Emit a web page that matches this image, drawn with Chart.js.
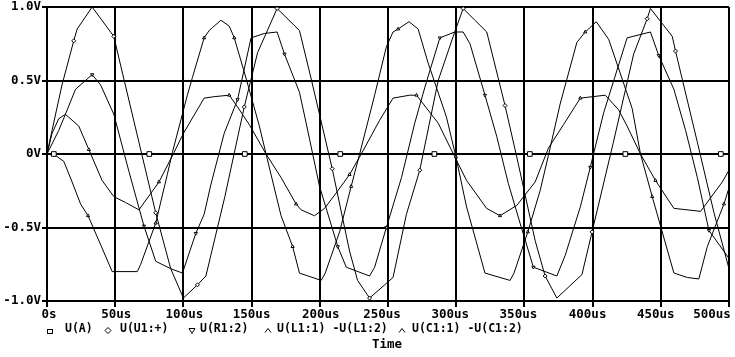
<!DOCTYPE html>
<html><head><meta charset="utf-8">
<script src="https://cdn.jsdelivr.net/npm/chart.js@4"></script>
<style>html,body{margin:0;padding:0;background:#fff}canvas{display:block}</style>
</head><body>
<canvas id="c" width="735" height="357"></canvas>
<script>
// ---- data (time in us, voltage in V) ----
const xTickValues = [0,50,100,150,200,250,300,350,400,450,500];
const xTickLabels = ['0s','50us','100us','150us','200us','250us','300us','350us','400us','450us','500us'];
const yTickValues = [1,0.5,0,-0.5,-1];
const yTickLabels = ['1.0V','0.5V','0V','-0.5V','-1.0V'];
const seriesNames = ['U(A)','U(U1:+)','U(R1:2)','U(L1:1) -U(L1:2)','U(C1:1) -U(C1:2)'];
const axisTitle = 'Time';

const uA_t = [0,5,75,145,215,284,354,424,494,500];
const uA_v = [0,0,0,0,0,0,0,0,0,0];

const u1_t = [0,3.7,11,19.6,22.1,33.1,49,51.5,67.4,79.7,90.7,100,110.3,116.5,130.4,144.6,154.4,165.4,168.7,185.1,193.7,209.1,221.8,227.7,236.5,253.7,263.5,273.3,286.8,297.8,305.1,313.7,322.4,335.8,344.4,357.9,365.2,373.8,392.2,399.6,415,430.1,440,442.4,458.4,460.8,476.8,489,500];
const u1_v = [0,0.16,0.47,0.77,0.85,1.00,0.80,0.70,0.08,-0.40,-0.78,-0.98,-0.89,-0.83,-0.29,0.32,0.69,0.92,0.99,0.84,0.51,-0.10,-0.66,-0.86,-0.98,-0.84,-0.41,-0.11,0.50,0.80,0.99,0.91,0.83,0.33,-0.02,-0.59,-0.83,-0.98,-0.82,-0.53,0.07,0.68,0.92,0.99,0.80,0.70,0.08,-0.40,-0.78];

const r1_t = [0,8.6,13.5,20.9,33.1,39.3,49,60.1,71.1,79.7,90.7,99.3,109.1,115.2,120.1,129.9,139.7,149.6,159.3,168.7,174.1,185.1,190,199.8,213.2,219.4,236.5,240.2,248.8,259.9,269.6,276.9,288,299,305.1,310.1,321.1,329.7,338.2,346.8,356.6,373.8,379.9,391,398.3,408.1,425.3,442.4,448.5,459.6,468.2,476.8,485.3,500];
const r1_v = [0,0.16,0.27,0.44,0.54,0.47,0.27,-0.12,-0.49,-0.73,-0.78,-0.81,-0.54,-0.41,-0.21,0.14,0.37,0.79,0.82,0.83,0.68,0.42,0.21,-0.22,-0.63,-0.77,-0.83,-0.77,-0.50,-0.16,0.21,0.45,0.79,0.83,0.83,0.75,0.40,0.12,-0.20,-0.47,-0.77,-0.83,-0.69,-0.36,-0.09,0.28,0.79,0.83,0.67,0.44,0.16,-0.16,-0.52,-0.71];

const l1_t = [0,6.2,12.3,18.4,24.6,30.1,40.4,47.8,66.2,68.7,79.7,88.2,91.9,102.9,106.6,115.2,118.9,121.3,127.5,133.6,137.3,146.1,155.7,160.6,171.6,180.1,185.1,201,204,214.5,223,229.2,240.2,248.8,253.7,257.4,265.4,272.1,279.4,292.9,299.8,307.6,321.1,339.5,342.4,352.5,361.5,367.6,376.2,388.5,394.6,402.7,411.8,429,435.1,443.7,459.6,469.4,477.9,484.1,496.3,500];
const l1_v = [0,-0.01,-0.05,-0.19,-0.34,-0.42,-0.64,-0.80,-0.80,-0.75,-0.47,-0.14,0.01,0.40,0.52,0.79,0.84,0.86,0.91,0.87,0.79,0.51,0.19,0,-0.42,-0.63,-0.81,-0.86,-0.81,-0.53,-0.22,0,0.40,0.73,0.83,0.85,0.90,0.85,0.62,0.25,-0.02,-0.36,-0.81,-0.86,-0.81,-0.53,-0.25,-0.01,0.34,0.76,0.83,0.90,0.78,0.31,0,-0.29,-0.81,-0.84,-0.85,-0.63,-0.34,-0.23];

const c1_t = [0,3.7,8.6,13.5,23.3,30.7,40.4,49,57.6,67.4,82.1,93.1,100,115.2,122.6,133.6,139.7,148.3,160.6,171.6,182.6,186.3,196.1,203.5,213.2,221.8,230.4,243.9,253.7,265.9,270.9,286.8,299,307.6,322.3,332.1,344.4,357.9,367.6,378.7,391,409.3,419.1,425.3,435.1,446.1,459.6,479.2,495.1,500];
const c1_v = [0,0.14,0.24,0.27,0.19,0.03,-0.18,-0.29,-0.33,-0.38,-0.19,0.01,0.14,0.38,0.39,0.40,0.32,0.20,0,-0.16,-0.34,-0.38,-0.42,-0.37,-0.25,-0.14,0,0.23,0.38,0.40,0.40,0.21,-0.02,-0.18,-0.37,-0.42,-0.35,-0.19,0.04,0.20,0.38,0.40,0.30,0.19,0,-0.18,-0.37,-0.39,-0.19,-0.11];

// ---- helpers ----
const pts = (ts, vs) => ts.map((t, i) => ({x: t, y: vs[i]}));
const FONT = 'bold 12.5px "DejaVu Sans Mono", "Liberation Mono", monospace';
const LFONT = 'bold 11.5px "DejaVu Sans Mono", "Liberation Mono", monospace';

function mk(label, ts, vs, style, radius, every, rot) {
  const n = ts.length;
  return {
    label, data: pts(ts, vs), showLine: true, borderColor: '#000', borderWidth: 1,
    backgroundColor: '#fff', pointBorderColor: '#000', pointBackgroundColor: '#fff',
    pointBorderWidth: 1, pointStyle: style, rotation: rot || 0,
    pointRadius: ctx => (ctx.dataIndex > 0 && ctx.dataIndex < n - 1 && ctx.dataIndex % every === 0) ? radius : 0,
    pointHoverRadius: 0, tension: 0
  };
}

const datasets = [
  mk(seriesNames[0], uA_t, uA_v, 'rect', 3.3, 1, 0),
  mk(seriesNames[1], u1_t, u1_v, 'rectRot', 2.0, 3, 0),
  mk(seriesNames[2], r1_t, r1_v, 'triangle', 1.8, 4, 180),
  mk(seriesNames[3], l1_t, l1_v, 'triangle', 1.8, 5, 0),
  mk(seriesNames[4], c1_t, c1_v, 'triangle', 1.8, 5, 0)
];

const xLabelNudge = [2,1,1,0,1,-6,-6,-6,-5,-5,-17];
const legendMarkX = [50,108,192,268,402];
const legendTextX = [65,120,200,277,412];

const textPlugin = {
  id: 'pspiceText',
  afterDraw(chart) {
    const ctx = chart.ctx, xs = chart.scales.x, ys = chart.scales.y, ca = chart.chartArea;
    ctx.save();
    ctx.fillStyle = '#000';
    ctx.font = FONT;
    ctx.textBaseline = 'middle';
    ctx.textAlign = 'right';
    yTickValues.forEach((v, i) => ctx.fillText(yTickLabels[i], ca.left - 6, ys.getPixelForValue(v)));
    ctx.textAlign = 'center';
    xTickValues.forEach((v, i) => ctx.fillText(xTickLabels[i], xs.getPixelForValue(v) + xLabelNudge[i], 314.5));
    // legend
    ctx.font = LFONT;
    ctx.textAlign = 'left';
    seriesNames.forEach((s, i) => ctx.fillText(s, legendTextX[i], 329.5));
    ctx.strokeStyle = '#000'; ctx.lineWidth = 1;
    ctx.strokeRect(legendMarkX[0] - 2.5, 329.5, 5, 4);
    let mx = legendMarkX[1], my = 330.5;
    ctx.beginPath(); ctx.moveTo(mx, my - 3); ctx.lineTo(mx + 3, my); ctx.lineTo(mx, my + 3); ctx.lineTo(mx - 3, my); ctx.closePath(); ctx.stroke();
    mx = legendMarkX[2];
    ctx.beginPath(); ctx.moveTo(mx - 3, my - 2); ctx.lineTo(mx + 3, my - 2); ctx.lineTo(mx, my + 3); ctx.closePath(); ctx.stroke();
    [legendMarkX[3], legendMarkX[4]].forEach(m => {
      ctx.beginPath(); ctx.moveTo(m - 3, my + 2); ctx.lineTo(m, my - 2); ctx.lineTo(m + 3, my + 2); ctx.stroke();
    });
    ctx.font = FONT;
    ctx.textAlign = 'center';
    ctx.fillText(axisTitle, 387, 344.5);
    ctx.restore();
  }
};

new Chart(document.getElementById('c'), {
  type: 'scatter',
  data: { datasets },
  options: {
    responsive: false, animation: false, devicePixelRatio: 1,
    layout: { padding: { left: 42, right: 6, top: 7, bottom: 50 } },
    plugins: { legend: { display: false }, tooltip: { enabled: false } },
    scales: {
      x: { type: 'linear', min: 0, max: 500,
           ticks: { display: false, stepSize: 50 },
           grid: { color: '#000', lineWidth: 2, drawTicks: true, tickLength: 6, tickColor: '#000' },
           border: { display: true, color: '#000', width: 2 } },
      y: { type: 'linear', min: -1, max: 1,
           ticks: { display: false, stepSize: 0.5 },
           grid: { color: '#000', lineWidth: 2, drawTicks: true, tickLength: 5, tickColor: '#000' },
           border: { display: true, color: '#000', width: 2 } }
    }
  },
  plugins: [textPlugin]
});
</script>
</body></html>
